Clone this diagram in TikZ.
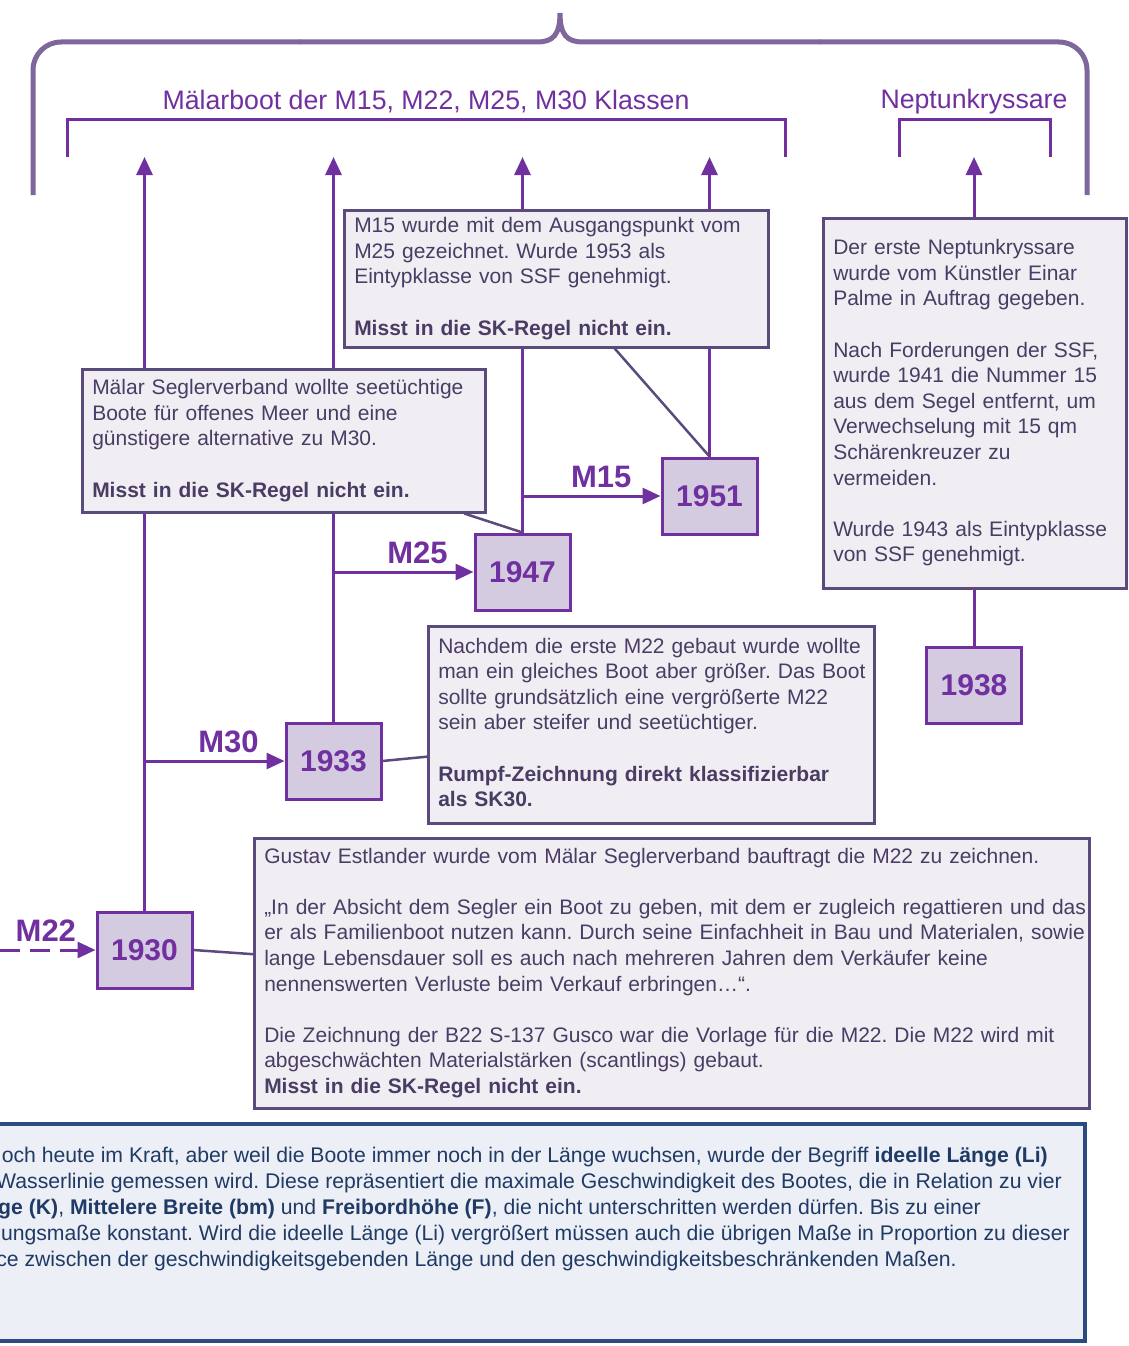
\documentclass[tikz,border=0pt]{standalone}
\usepackage{fontspec}
\setmainfont{Liberation Sans}
\usetikzlibrary{arrows.meta,calc}
\definecolor{lila}{HTML}{7030A0}
\definecolor{yearfill}{HTML}{D4CBE1}
\definecolor{boxfill}{HTML}{F0EEF3}
\definecolor{boxline}{HTML}{5B4B7C}
\definecolor{boxtext}{HTML}{4A3C64}
\definecolor{klammer}{HTML}{7D679C}
\definecolor{blauline}{HTML}{2A4A82}
\definecolor{blaufill}{HTML}{ECEFF5}
\definecolor{blautext}{HTML}{203A66}
\frenchspacing
\begin{document}
\begin{tikzpicture}[x=1pt,y=-1pt]
\useasboundingbox (0,0) rectangle (1129,1346);
\clip (0,0) rectangle (1129,1346);

\tikzset{year/.style={draw=lila,line width=3pt,fill=yearfill,minimum width=95pt,minimum height=76pt,inner sep=0pt,text=lila,font=\fontsize{30}{36}\selectfont\bfseries},}
\tikzset{info/.style={draw=boxline,line width=2.5pt,fill=boxfill,text=boxtext,inner xsep=10pt,inner ysep=0pt,anchor=north west,font=\fontsize{21}{25.6}\selectfont},}
\tikzset{zweig/.style={-{Triangle[length=18pt,width=16pt]},line width=3pt,lila},}
\tikzset{klasse/.style={text=lila,font=\fontsize{31}{36}\selectfont\bfseries,inner sep=0pt},}
\tikzset{verweis/.style={line width=2.5pt,boxline},}
\tikzset{titel/.style={text=lila,font=\fontsize{26.7}{32}\selectfont,inner sep=0pt},}
\tikzset{unten/.style={text=blautext,font=\fontsize{21.2}{25.6}\selectfont,inner sep=0pt,anchor=base east},}

% jahre
\node[year] (b1951) at (709.5,496) {1951};
\node[year] (b1947) at (522.5,572) {1947};
\node[year] (b1933) at (333.5,761) {1933};
\node[year] (b1930) at (144.5,950) {1930};
\node[year] (b1938) at (974,685.5) {1938};

\coordinate (z1930) at (b1930.north |- 0,157);
\coordinate (z1933) at (b1933.north |- 0,157);
\coordinate (z1947) at (b1947.north |- 0,157);
\coordinate (z1951) at (b1951.north |- 0,157);
\coordinate (z1938) at (b1938.north |- 0,157);
\coordinate (start) at (0,950);

\draw[zweig] (b1930.north) -- (z1930);
\draw[zweig] (b1933.north) -- (z1933);
\draw[zweig] (b1947.north) -- (z1947);
\draw[zweig] (b1951.north) -- (z1951);
\draw[zweig] (b1938.north) -- (z1938);

\draw[zweig] (b1930.north |- b1933.west) -- (b1933.west) node[klasse,pos=0.6,above=7pt] (lM30) {M30};
\draw[zweig] (b1933.north |- b1947.west) -- (b1947.west) node[klasse,pos=0.6,above=7pt] (lM25) {M25};
\draw[zweig] (b1947.north |- b1951.west) -- (b1951.west) node[klasse,pos=0.57,above=7pt] (lM15) {M15};
\draw[zweig,dash pattern=on 20pt off 10pt] (start) -- (b1930.west) node[klasse,pos=0.48,above=7pt] (lM22) {M22};

% textboxen
\node[info,text width=404pt,minimum height=137pt] (nM15) at (343,209) {\begin{tabular}{@{}l@{}}M15 wurde mit dem Ausgangspunkt vom\\ M25 gezeichnet. Wurde 1953 als\\ Eintypklasse von SSF genehmigt.\\[25.6pt] \textbf{Misst in die SK-Regel nicht ein.}\end{tabular}};
\node[info,text width=383pt,minimum height=143pt] (nMaelar) at (81,368) {\begin{tabular}{@{}l@{}}Mälar Seglerverband wollte seetüchtige\\ Boote für offenes Meer und eine\\ günstigere alternative zu M30.\\[25.6pt] \textbf{Misst in die SK-Regel nicht ein.}\end{tabular}};
\node[info,text width=283pt,minimum height=370pt] (nNeptun) at (822,217) {\begin{tabular}{@{}l@{}}Der erste Neptunkryssare\\ wurde vom Künstler Einar\\ Palme in Auftrag gegeben.\\[25.6pt] Nach Forderungen der SSF,\\ wurde 1941 die Nummer 15\\ aus dem Segel entfernt, um\\ Verwechselung mit 15 qm\\ Schärenkreuzer zu\\ vermeiden.\\[25.6pt] Wurde 1943 als Eintypklasse\\ von SSF genehmigt.\end{tabular}};
\node[info,text width=426pt,minimum height=197pt] (nNachdem) at (427,625) {\begin{tabular}{@{}l@{}}Nachdem die erste M22 gebaut wurde wollte\\ man ein gleiches Boot aber größer. Das Boot\\ sollte grundsätzlich eine vergrößerte M22\\ sein aber steifer und seetüchtiger.\\[25.6pt] \textbf{Rumpf-Zeichnung direkt klassifizierbar}\\ \textbf{als SK30.}\end{tabular}};
\node[info,text width=815pt,minimum height=270pt] (nGustav) at (253,837) {\begin{tabular}{@{}l@{}}Gustav Estlander wurde vom Mälar Seglerverband bauftragt die M22 zu zeichnen.\\[25.6pt] „In der Absicht dem Segler ein Boot zu geben, mit dem er zugleich regattieren und das\\ er als Familienboot nutzen kann. Durch seine Einfachheit in Bau und Materialen, sowie\\ lange Lebensdauer soll es auch nach mehreren Jahren dem Verkäufer keine\\ nennenswerten Verluste beim Verkauf erbringen…“.\\[25.6pt] Die Zeichnung der B22 S-137 Gusco war die Vorlage für die M22. Die M22 wird mit\\ abgeschwächten Materialstärken (scantlings) gebaut.\\ \textbf{Misst in die SK-Regel nicht ein.}\end{tabular}};

\draw[verweis] ($(nM15.south west)!0.637!(nM15.south east)$) -- (b1951.north);
\draw[verweis] ($(nMaelar.south west)!0.945!(nMaelar.south east)$) -- (b1947.north);
\draw[verweis] (b1933.east) -- ($(nNachdem.south west)!0.34!(nNachdem.north west)$);
\draw[verweis] (b1930.east) -- ($(nGustav.south west)!0.57!(nGustav.north west)$);

% klammern
\draw[klammer,line width=5pt,rounded corners=28pt] (33,195) -- (33,42) -- (300,42);
\draw[klammer,line width=5pt] (299,42) -- (537,42) .. controls (553,42) and (560,35) .. (560,13) .. controls (560,35) and (567,42) .. (583,42) -- (821,42);
\draw[klammer,line width=5pt,rounded corners=28pt] (820,42) -- (1087,42) -- (1087,195);
\draw[lila,line width=3pt] (67,157) -- (67,119) -- (785,119) -- (785,157);
\draw[lila,line width=3pt] (899,157) -- (899,119) -- (1050,119) -- (1050,157);
\node[titel] (tMaelar) at (426,102) {Mälarboot der M15, M22, M25, M30 Klassen};
\node[titel] (tNeptun) at (974,102) {Neptunkryssare};

% unten
\draw[blauline,fill=blaufill,line width=4pt] (-20,1124) rectangle (1085,1341);
\node[unten] (u1) at (1048,1162) {och heute im Kraft, aber weil die Boote immer noch in der Länge wuchsen, wurde der Begriff \textbf{ideelle Länge (Li)}};
\node[unten] (u2) at (1062,1188) {Wasserlinie gemessen wird. Diese repräsentiert die maximale Geschwindigkeit des Bootes, die in Relation zu vier};
\node[unten] (u3) at (981,1214) {\textbf{ge (K)}, \textbf{Mittelere Breite (bm)} und \textbf{Freibordhöhe (F)}, die nicht unterschritten werden dürfen. Bis zu einer};
\node[unten] (u4) at (1070,1240) {ungsmaße konstant. Wird die ideelle Länge (Li) vergrößert müssen auch die übrigen Maße in Proportion zu dieser};
\node[unten] (u5) at (957,1266) {ce zwischen der geschwindigkeitsgebenden Länge und den geschwindigkeitsbeschränkenden Maßen.};

\end{tikzpicture}
\end{document}
